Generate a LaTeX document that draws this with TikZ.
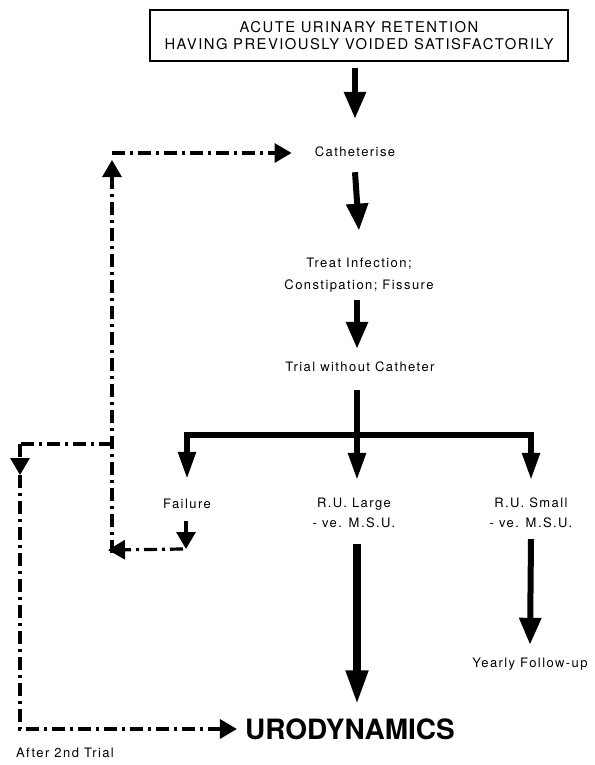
\documentclass[tikz,border=0pt]{standalone}
\usepackage{fontspec}
\setmainfont{TeX Gyre Heros}
\newfontfamily\spaced[LetterSpace=11]{TeX Gyre Heros}
\newfontfamily\boxfont[LetterSpace=10]{TeX Gyre Heros}
\usetikzlibrary{arrows.meta}

\tikzset{
  lbl/.style={font=\spaced\fontsize{13}{21}\selectfont, inner sep=1pt, align=center},
  one/.style={lbl, text height=9.5pt, text depth=2.5pt},
  flow/.style={line width=6pt, -{Triangle[length=27pt,width=21pt]}},
  bigflow/.style={line width=7.5pt, -{Triangle[length=34pt,width=21pt]}},
  branch/.style={line width=5.5pt, -{Triangle[length=27pt,width=17pt]}},
  stem/.style={line width=6pt},
  dd/.style={line width=3.2pt, dash pattern=on 13pt off 5pt on 3pt off 5pt},
  ddarrow/.style={dd, -{Triangle[length=17pt,width=19pt]}},
}

\begin{document}
\begin{tikzpicture}[x=1pt,y=-1pt]
\useasboundingbox (0,0) rectangle (594,765);

% boxes and labels
\node[align=center, font=\boxfont\fontsize{14.8}{17.5}\selectfont, draw, line width=1.5pt,
      minimum width=418pt, minimum height=51pt, inner sep=0pt]
  (top) at (359,35.5) {ACUTE URINARY RETENTION\\HAVING PREVIOUSLY VOIDED SATISFACTORILY};
\node[one] (cath)  at (355,153) {Catheterise};
\node[lbl, font=\spaced\fontsize{13}{22}\selectfont] (treat) at (359,275) {Treat Infection;\\Constipation; Fissure};
\node[one] (trial) at (360,368) {Trial without Catheter};
\node[one] (fail)  at (187,505) {Failure};
\node[lbl, font=\spaced\fontsize{13}{20}\selectfont] (rul) at (354,513) {R.U. Large\\- ve. M.S.U.};
\node[lbl, font=\spaced\fontsize{13}{20}\selectfont] (rus) at (531,513) {R.U. Small\\- ve. M.S.U.};
\node[one] (yearly) at (530,664) {Yearly Follow-up};
\node[font=\bfseries\fontsize{28}{30}\selectfont, inner sep=0pt] (uro) at (350,729) {URODYNAMICS};
\node[one] (after) at (65,754) {After 2nd Trial};

% main pathway
\coordinate (split) at (357,435);
\draw[flow] ([yshift=-6pt]top.south -| cath.north) -- ([yshift=27pt]cath.north);
\draw[flow] ([yshift=-12pt]cath.south) -- ([yshift=26pt]treat.north);
\draw[flow] ([yshift=-7pt]treat.south -| split) -- ([yshift=12pt]trial.north -| split);
\draw[stem] ([yshift=-15pt]trial.south -| split) -- (split);
\draw[branch] (split) -| ([yshift=19pt]fail.north);
\draw[branch] (split) -- ([yshift=17pt]rul.north -| split);
\draw[branch] (split) -| ([yshift=17pt]rus.north);
\draw[bigflow] ([yshift=-15pt]rul.south -| split) -- ([yshift=14pt]uro.north -| split);
\draw[flow] ([yshift=-10pt]rus.south) -- ([yshift=12pt]yearly.north);

% repeat-trial loop
\coordinate (fc) at (186,549);
\coordinate (lb) at (112,550);
\coordinate (lt) at (112,153);
\coordinate (lm) at (112,444);
\coordinate (oc) at (20,444);
\coordinate (od) at (20,475);
\coordinate (ob) at (20,729);
\draw[ddarrow] ([yshift=-9pt]fail.south -| fc) -- (fc);
\draw[ddarrow] ([xshift=-3pt]fc) -- ([xshift=-4pt]lb);
\draw[ddarrow] ([yshift=-3pt]lb) -- ([yshift=-7pt]lt);
\draw[ddarrow] (lt) -- ([xshift=-22pt]cath.west);
\draw[dd] (lm) -- (oc);
\draw[ddarrow] (oc) -- (od);
\draw[ddarrow] (od) -- (ob) -- ([xshift=-8pt]uro.west);
\end{tikzpicture}
\end{document}
